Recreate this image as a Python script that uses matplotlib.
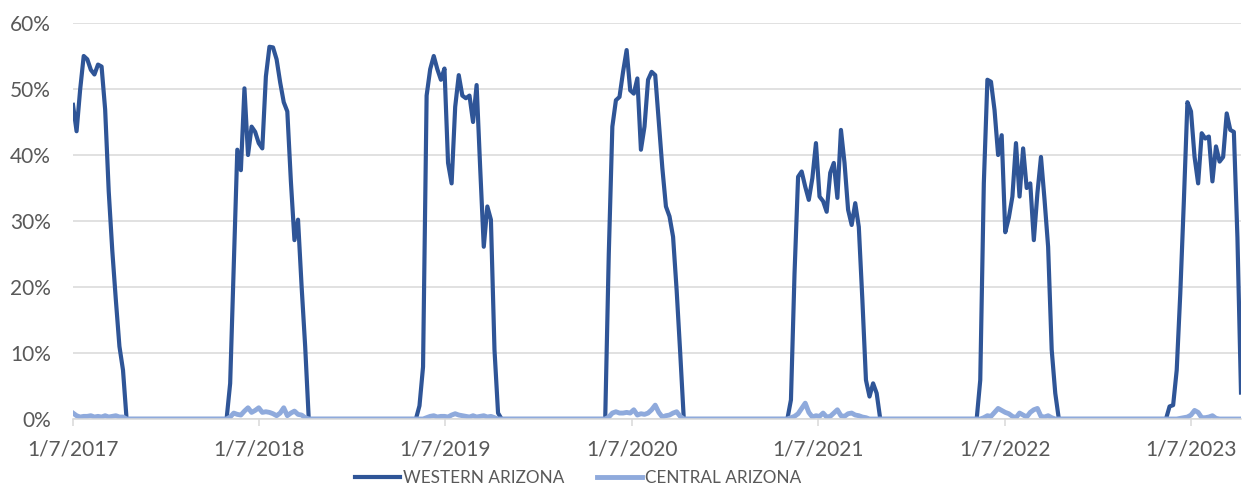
#!/usr/bin/env python3
"""
porcentaje semanal: western vs central arizona, 2017-2023
"""

import numpy as np
import pandas as pd
import matplotlib
matplotlib.use("Agg")
import matplotlib.pyplot as plt

# semanas desde 1/7/2017
first_week = "2017-01-07"
n_weeks = 328

# inicio de cada temporada (indice de semana)
season_start = [0, 43, 96, 149, 200, 253, 306]

western_2017 = [47.6, 43.6, 49.9, 55.0, 54.5, 52.9, 52.2, 53.7, 53.4, 46.9, 34.5, 25.5, 18.0, 11.0, 7.4, 0]
western_2018 = [0, 5.4, 23, 40.8, 37.7, 50.1, 40, 44.3, 43.5, 41.8, 41.0, 51.9, 56.4, 56.3, 54.5, 51,
                48, 46.6, 36, 27.1, 30.2, 20.1, 11, 0]
western_2019 = [0, 2, 7.9, 49, 53, 55, 53, 51.4, 53.1, 38.8, 35.7, 47.3, 52.1, 49, 48.6, 49, 45, 50.6,
                38, 26.1, 32.2, 30.2, 10.5, 0.9, 0]
western_2020 = [0, 25, 44.3, 48.3, 48.8, 52.6, 55.9, 49.8, 49.3, 51.6, 40.8, 44.3, 51.4, 52.6, 52.1,
                45, 38, 32.2, 30.7, 27.6, 19.5, 10, 0]
western_2021 = [0, 2.9, 22, 36.7, 37.5, 35.2, 33.2, 36.5, 41.8, 33.7, 33, 31.4, 37.3, 38.8, 33.5, 43.8,
                38.8, 31.7, 29.4, 32.7, 29.1, 18, 5.9, 3.4, 5.4, 3.9, 0]
western_2022 = [0, 5.9, 35.7, 51.4, 51.1, 46.8, 40, 43, 28.3, 30.5, 33.7, 41.8, 33.7, 41, 35, 35.7,
                27.1, 34.2, 39.7, 33.2, 26.1, 10.5, 3.9, 0]
western_2023 = [0, 1.9, 2.1, 7.4, 19, 33, 48, 46.6, 39.7, 35.7, 43.3, 42.5, 42.8, 36, 41.3, 39, 39.7,
                46.3, 43.8, 43.5, 27.5, 4]

central_2017 = [0.9, 0.5, 0.3, 0.4, 0.4, 0.5, 0.3, 0.4, 0.3, 0.5, 0.3, 0.4, 0.5, 0.3, 0.3, 0]
central_2018 = [0, 0.3, 0.9, 0.7, 0.6, 1.2, 1.7, 1.0, 1.3, 1.7, 1.0, 1.1, 1.0, 0.8, 0.5, 0.9, 1.7, 0.5,
                0.9, 1.2, 0.7, 0.6, 0.2, 0]
central_2019 = [0, 0, 0, 0.2, 0.4, 0.5, 0.3, 0.4, 0.4, 0.3, 0.6, 0.8, 0.6, 0.5, 0.4, 0.3, 0.5, 0.3, 0.4,
                0.5, 0.3, 0.4, 0.2, 0, 0]
central_2020 = [0, 0.3, 0.9, 1.1, 0.9, 0.9, 1.0, 0.9, 1.4, 0.6, 0.8, 0.7, 0.9, 1.4, 2.1, 1.0, 0.3, 0.5,
                0.6, 0.9, 1.1, 0.4, 0]
central_2021 = [0, 0.2, 0.4, 0.8, 1.6, 2.4, 1.0, 0.3, 0.5, 0.4, 0.9, 0.3, 0.4, 0.9, 1.4, 0.5, 0.4, 0.8,
                0.9, 0.6, 0.5, 0.3, 0.2, 0, 0, 0, 0]
central_2022 = [0, 0, 0.2, 0.5, 0.4, 1.0, 1.6, 1.3, 1.0, 0.8, 0.4, 0.2, 0.9, 0.6, 0.3, 1.0, 1.4, 1.6,
                0.4, 0.3, 0.5, 0.2, 0, 0]
central_2023 = [0, 0, 0, 0, 0.1, 0.2, 0.3, 0.6, 1.3, 1.0, 0.2, 0.2, 0.3, 0.5, 0.1, 0, 0, 0, 0, 0, 0, 0]

tick_dates  = ["2017-01-07", "2018-01-07", "2019-01-07", "2020-01-07",
               "2021-01-07", "2022-01-07", "2023-01-07"]
tick_labels = ["1/7/2017", "1/7/2018", "1/7/2019", "1/7/2020",
               "1/7/2021", "1/7/2022", "1/7/2023"]
y_ticks = [0, 10, 20, 30, 40, 50, 60]

# armar series semanales completas (fuera de temporada = 0%)
western = [western_2017, western_2018, western_2019, western_2020,
           western_2021, western_2022, western_2023]
central = [central_2017, central_2018, central_2019, central_2020,
           central_2021, central_2022, central_2023]

fechas = pd.date_range(first_week, periods=n_weeks, freq="7D")
west = np.zeros(n_weeks)
cent = np.zeros(n_weeks)
for s, w, c in zip(season_start, western, central):
    west[s:s + len(w)] = w
    cent[s:s + len(c)] = c

plt.rcParams["font.family"] = ["Lato", "DejaVu Sans"]
gris = "#595959"

fig = plt.figure(figsize=(12.42, 4.9), dpi=100)
ax = fig.add_axes([73 / 1242, 1 - 419 / 490, (1241 - 73) / 1242, (419 - 23) / 490])

ax.plot(fechas, west, color="#2F5597", lw=3.0, label="WESTERN ARIZONA", solid_joinstyle="round")
ax.plot(fechas, cent, color="#8FAADC", lw=3.5, label="CENTRAL ARIZONA", solid_joinstyle="round")

ax.set_xlim(fechas[0], fechas[-1])
ax.set_ylim(0, 60)
ax.set_yticks(y_ticks)
ax.set_yticklabels([f"{v}%" for v in y_ticks])
ax.set_xticks(pd.to_datetime(tick_dates))
ax.set_xticklabels(tick_labels)

ax.grid(axis="y", color="#d9d9d9", lw=1.1)
ax.set_axisbelow(True)
for s in ["top", "right", "left"]:
    ax.spines[s].set_visible(False)
ax.spines["bottom"].set_color("#d9d9d9")
ax.spines["bottom"].set_linewidth(1.1)
ax.tick_params(axis="y", length=0, pad=16, labelsize=15, labelcolor=gris)
ax.tick_params(axis="x", length=5, width=1.1, color="#d9d9d9", pad=10, labelsize=15, labelcolor=gris)

fig.legend(loc="center", bbox_to_anchor=(578 / 1242, 1 - 478 / 490), ncol=2, frameon=False,
           fontsize=12.3, labelcolor=gris, handlelength=2.65, handletextpad=0.18, columnspacing=1.9)

fig.savefig("out.png", dpi=100)
